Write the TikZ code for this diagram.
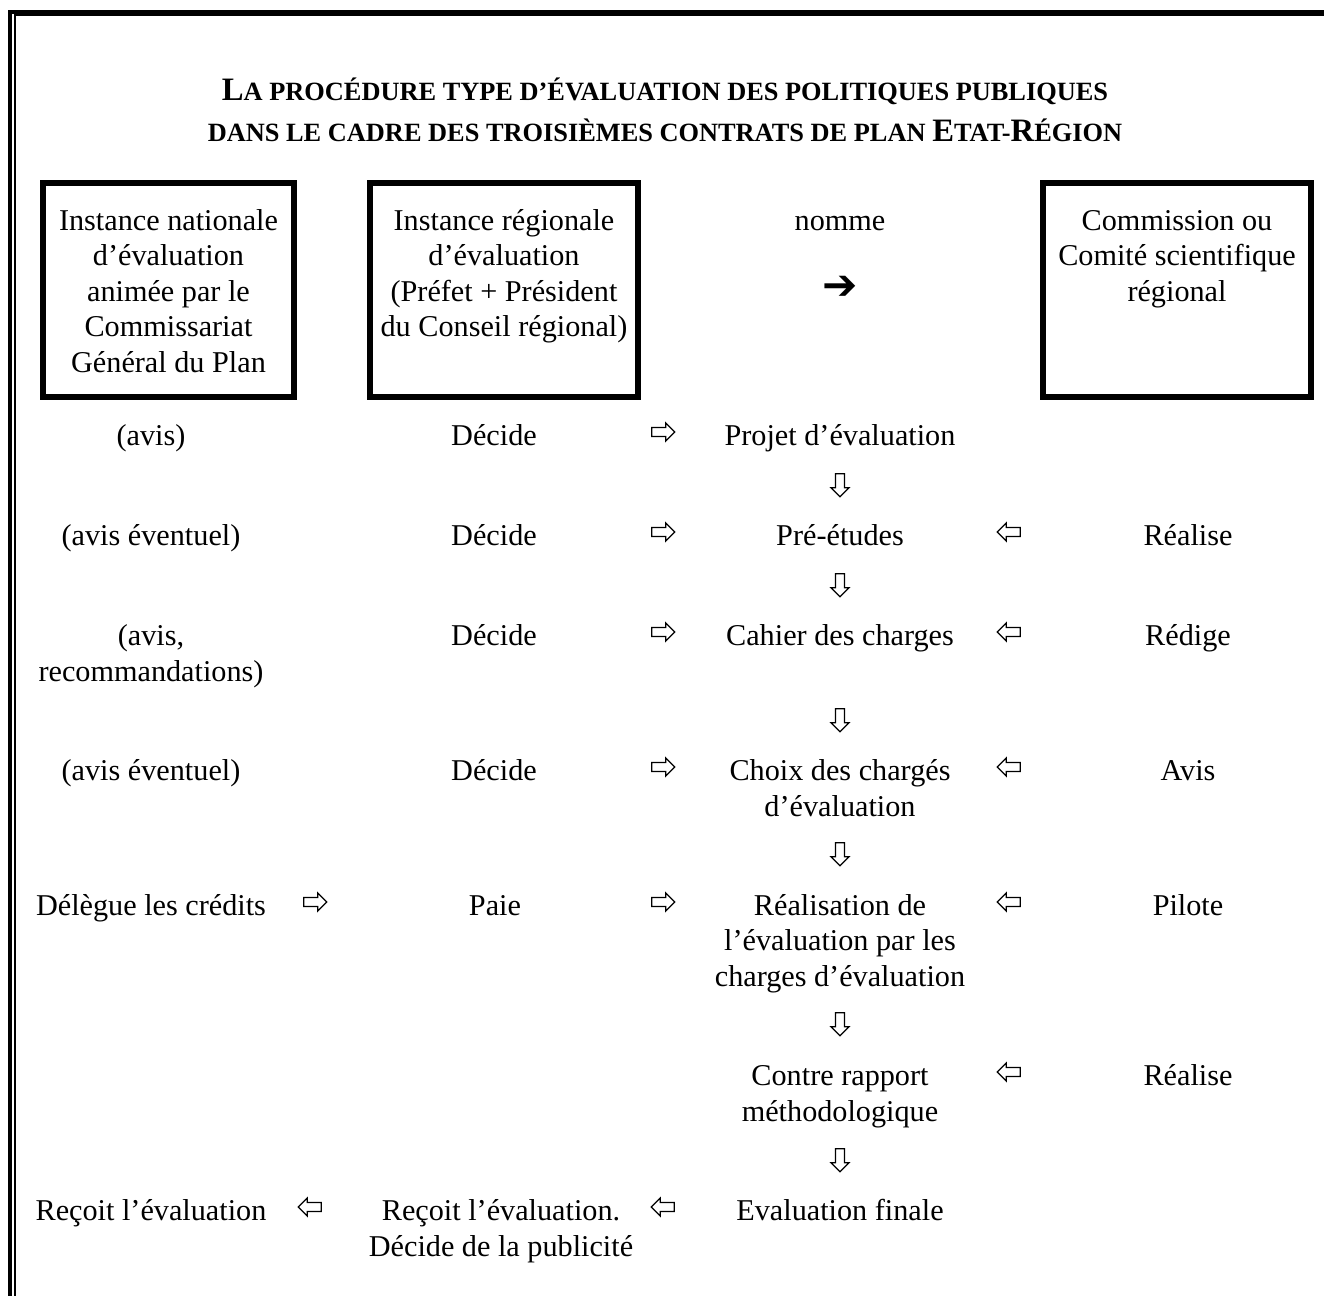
\documentclass[tikz,border=0pt]{standalone}
\usepackage{fontspec}
\setmainfont{Liberation Serif}
\newfontfamily\symbfont{DejaVu Sans}
\usetikzlibrary{shapes.arrows}

\newlength\pxl
\setlength\pxl{0.02cm}
\newcommand{\gdl}[1]{{\fontsize{18.6}{22.8}\selectfont #1}}

\tikzset{
  txt/.style={font=\fontsize{17.2}{20.2}\selectfont, align=center, anchor=base, inner sep=0pt},
  boite/.style={draw, line width=6\pxl, minimum height=214\pxl, minimum width=#1, inner sep=0pt},
  fleche/.style={single arrow, draw, line width=1.3\pxl, fill=white, inner sep=3.8\pxl,
    minimum height=23\pxl, single arrow head extend=4.5\pxl, shape border rotate=#1}
}

\begin{document}
\begin{tikzpicture}[x=\pxl, y=-\pxl]

\useasboundingbox (0,0) rectangle (1324,1295);

% double cadre
\draw[line width=4\pxl] (10,1300) -- (10,11.5) -- (1330,11.5);
\draw[line width=2\pxl] (15,1300) -- (15,15) -- (1330,15);

\node[font=\fontsize{15}{22.8}\selectfont\bfseries, align=center, anchor=base, inner sep=0pt] (titre) at (665,141)
  {\gdl{L}A PROCÉDURE TYPE D’ÉVALUATION DES POLITIQUES PUBLIQUES\\DANS LE CADRE DES TROISIÈMES CONTRATS DE PLAN \gdl{E}TAT-\gdl{R}ÉGION};

% les trois instances
\node[boite=251\pxl] (cgp) at (168.5,290) {};
\node[boite=268\pxl] (region) at (504,290) {};
\node[boite=267.5\pxl] (comite) at (1177,290) {};

\node[txt] (tcgp) at (168.5,372) {Instance nationale\\d’évaluation\\animée par le\\Commissariat\\Général du Plan};
\node[txt] (tregion) at (504,336.5) {Instance régionale\\d’évaluation\\(Préfet + Président\\du Conseil régional)};
\node[txt] (nomme) at (840,230) {nomme};
\node[txt, font=\symbfont\bfseries\fontsize{24}{26}\selectfont] (nommefl) at (840,299) {➔};
\node[txt] (tcomite) at (1177,301) {Commission ou\\Comité scientifique\\régional};

% etapes
\node[txt] (avis1) at (151,445) {(avis)};
\node[txt] (dec1) at (494,445) {Décide};
\node[txt] (projet) at (840,445) {Projet d’évaluation};

\node[txt] (avis2) at (151,545) {(avis éventuel)};
\node[txt] (dec2) at (494,545) {Décide};
\node[txt] (etudes) at (840,545) {Pré-études};
\node[txt] (realise1) at (1188,545) {Réalise};

\node[txt] (avis3) at (151,681) {(avis,\\recommandations)};
\node[txt] (dec3) at (494,645) {Décide};
\node[txt] (cahier) at (840,645) {Cahier des charges};
\node[txt] (redige) at (1188,645) {Rédige};

\node[txt] (avis4) at (151,780) {(avis éventuel)};
\node[txt] (dec4) at (494,780) {Décide};
\node[txt] (choix) at (840,816) {Choix des chargés\\d’évaluation};
\node[txt] (avis5) at (1188,780) {Avis};

\node[txt] (delegue) at (151,915) {Délègue les crédits};
\node[txt] (paie) at (495,915) {Paie};
\node[txt] (realisation) at (840,986) {Réalisation de\\l’évaluation par les\\charges d’évaluation};
\node[txt] (pilote) at (1188,915) {Pilote};

\node[txt] (contre) at (840,1121) {Contre rapport\\méthodologique};
\node[txt] (realise2) at (1188,1085) {Réalise};

\node[txt] (recoit1) at (151,1220) {Reçoit l’évaluation};
\node[txt] (recoit2) at (501,1256) {Reçoit l’évaluation.\\Décide de la publicité};
\node[txt] (finale) at (840,1220) {Evaluation finale};

% fleches creuses
\foreach \y in {432,532,632,767,902}
  \node[fleche=0] (fd\y) at (661,\y) {};
\node[fleche=0] (fdcred) at (313,902) {};
\foreach \y in {532,632,767,902,1072}
  \node[fleche=180] (fg\y) at (1011,\y) {};
\node[fleche=180] (fgrec1) at (312,1207) {};
\node[fleche=180] (fgrec2) at (665,1207) {};
\foreach \y in {483,583,718,852,1022,1158}
  \node[fleche=270] (fb\y) at (840,\y) {};

\end{tikzpicture}
\end{document}
